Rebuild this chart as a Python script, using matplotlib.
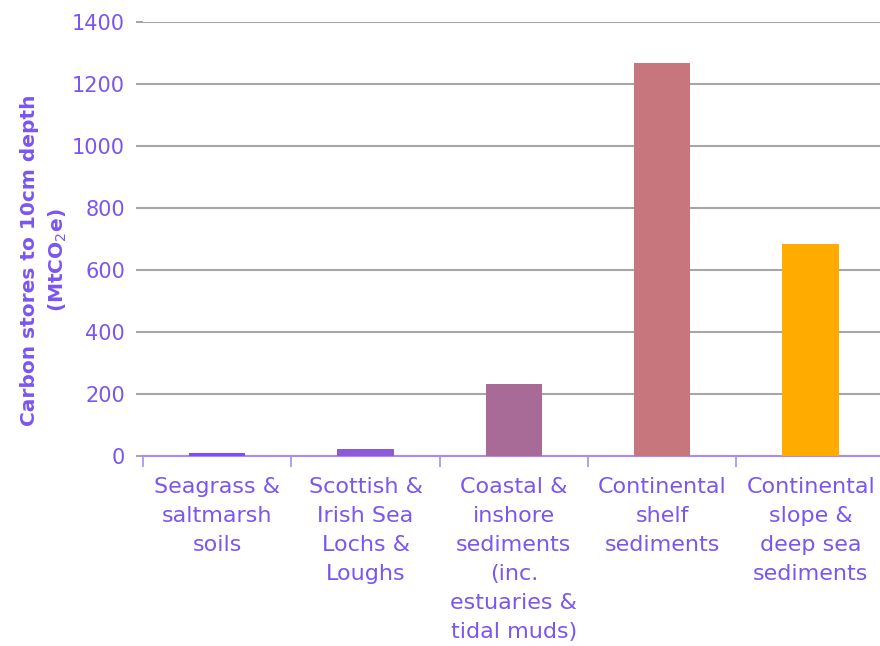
import numpy as np
import matplotlib.pyplot as plt

plt.rcParams['font.family'] = ['DejaVu Sans']

categories = ['Seagrass &\nsaltmarsh\nsoils',
              'Scottish &\nIrish Sea\nLochs &\nLoughs',
              'Coastal &\ninshore\nsediments\n(inc.\nestuaries &\ntidal muds)',
              'Continental\nshelf\nsediments',
              'Continental\nslope &\ndeep sea\nsediments']
carbon_stores = [10, 22, 232, 1268, 684]
bar_colors = ['#7B4DFF', '#8D5AD8', '#A86B98', '#C8767E', '#FFAB00']

text_color = '#7B55F2'

fig = plt.figure(figsize=(8.8, 6.46), dpi=100)
ax = fig.add_axes([0.1625, 0.294, 0.843, 0.672])

x = np.arange(len(categories))
ax.bar(x, carbon_stores, width=0.38, color=bar_colors, zorder=3)

ax.set_xlim(-0.5, len(categories) - 0.5)
ax.set_ylim(0, 1400)
ax.set_yticks(np.arange(0, 1401, 200))
ax.yaxis.grid(True, color='#A6A6A6', linewidth=1.5, zorder=0)
ax.set_axisbelow(True)

# category labels centred, tick marks at boundaries
ax.set_xticks(x)
ax.set_xticklabels(categories, fontsize=16, color=text_color, linespacing=1.56)
ax.tick_params(axis='x', length=0, pad=15)
ax.set_xticks(np.arange(-0.5, len(categories), 1), minor=True)
ax.tick_params(axis='x', which='minor', length=8, color='#A98BF5', width=1.2)
ax.tick_params(axis='y', length=5, color='#A6A6A6', width=1.5, labelsize=15,
               labelcolor=text_color, pad=8)

for s in ['top', 'right', 'left']:
    ax.spines[s].set_visible(False)
ax.spines['bottom'].set_color('#A98BF5')
ax.spines['bottom'].set_linewidth(1.5)

ax.set_ylabel('Carbon stores to 10cm depth\n(MtCO$_2$e)', fontsize=14.5,
              fontweight='bold', color=text_color, linespacing=1.45)
ax.yaxis.set_label_coords(-0.1, 0.452)

fig.savefig('out.png', dpi=100)
